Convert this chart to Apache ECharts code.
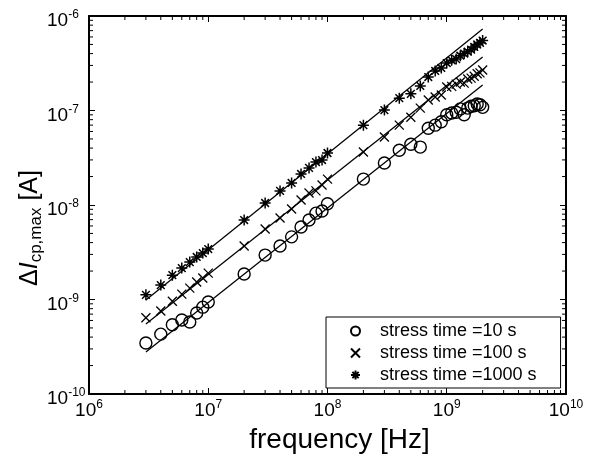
<!DOCTYPE html>
<html>
<head>
<meta charset="utf-8">
<script src="https://cdn.jsdelivr.net/npm/echarts@6/dist/echarts.min.js"></script>
<style>
  html, body { margin: 0; padding: 0; background: #fff; }
  #main { width: 597px; height: 461px; }
</style>
</head>
<body>
<div id="main"></div>
<script>
var freq = [3e6, 4e6, 5e6, 6e6, 7e6, 8e6, 9e6, 1e7,
            2e7, 3e7, 4e7, 5e7, 6e7, 7e7, 8e7, 9e7, 1e8,
            2e8, 3e8, 4e8, 5e8, 6e8, 7e8, 8e8, 9e8, 1e9,
            1.1e9, 1.2e9, 1.3e9, 1.4e9, 1.5e9, 1.6e9, 1.7e9, 1.8e9, 1.9e9, 2e9];

var i10 = [3.47e-10, 4.3e-10, 5.4e-10, 6.07e-10, 5.78e-10, 7.2e-10, 8.3e-10, 9.4e-10,
           1.86e-9, 2.95e-9, 3.68e-9, 4.6e-9, 5.85e-9, 6.93e-9, 8.2e-9, 8.65e-9, 1.03e-8,
           1.88e-8, 2.78e-8, 3.8e-8, 4.4e-8, 4.1e-8, 6.5e-8, 7.0e-8, 7.6e-8, 9.0e-8,
           9.4e-8, 9.6e-8, 1.04e-7, 9.0e-8, 1.06e-7, 1.11e-7, 1.12e-7, 1.17e-7, 1.15e-7, 1.08e-7];

var i100 = [6.4e-10, 7.55e-10, 9.6e-10, 1.14e-9, 1.32e-9, 1.53e-9, 1.69e-9, 1.9e-9,
            3.68e-9, 5.57e-9, 7.28e-9, 9.07e-9, 1.13e-8, 1.34e-8, 1.41e-8, 1.63e-8, 1.88e-8,
            3.64e-8, 5.25e-8, 7.0e-8, 8.5e-8, 1.06e-7, 1.29e-7, 1.39e-7, 1.46e-7, 1.77e-7,
            1.8e-7, 1.9e-7, 2.0e-7, 1.95e-7, 2.15e-7, 2.2e-7, 2.3e-7, 2.45e-7, 2.5e-7, 2.68e-7];

var i1000 = [1.12e-9, 1.42e-9, 1.81e-9, 2.15e-9, 2.49e-9, 2.82e-9, 3.1e-9, 3.42e-9,
             6.93e-9, 1.05e-8, 1.41e-8, 1.71e-8, 2.13e-8, 2.47e-8, 2.85e-8, 2.99e-8, 3.55e-8,
             7.0e-8, 1.01e-7, 1.35e-7, 1.5e-7, 1.82e-7, 2.26e-7, 2.62e-7, 2.82e-7, 3.18e-7,
             3.4e-7, 3.5e-7, 3.8e-7, 4.0e-7, 4.2e-7, 4.4e-7, 4.7e-7, 5.0e-7, 5.2e-7, 5.5e-7];

// fitted lines (end points)
var fitFreq = [3e6, 2e9];
var fit10 = [2.78e-10, 1.86e-7];
var fit100 = [5.5e-10, 3.68e-7];
var fit1000 = [9.9e-10, 7.3e-7];

var seriesNames = ['stress time =10 s', 'stress time =100 s', 'stress time =1000 s'];

var xMin = 1e6, xMax = 1e10, yMin = 1e-10, yMax = 1e-6;

// minor ticks 2..9 of every decade
var xMinor = [], yMinor = [];
for (var e = 6; e < 10; e++) for (var k = 2; k <= 9; k++) xMinor.push(k * Math.pow(10, e));
for (var e2 = -10; e2 < -6; e2++) for (var k2 = 2; k2 <= 9; k2++) yMinor.push(k2 * Math.pow(10, e2));

var FONT = '"Liberation Sans", Arial, sans-serif';

function pairs(xs, ys) {
  return xs.map(function (x, i) { return [x, ys[i]]; });
}
function powLabel(v) {
  return '{b|10}{s|' + Math.round(Math.log10(v)) + '}';
}
function labelRich() {
  return {
    b: { fontSize: 19, fontFamily: FONT, color: '#000', lineHeight: 24 },
    s: { fontSize: 12, fontFamily: FONT, color: '#000', lineHeight: 8, verticalAlign: 'top' }
  };
}
function boxLine() {
  return { show: true, lineStyle: { color: '#000', width: 2 } };
}
function majorTick() {
  return { show: true, inside: true, length: 6, lineStyle: { color: '#000', width: 1 } };
}

var myChart = echarts.init(document.getElementById('main'));

var option = {
  animation: false,
  backgroundColor: '#fff',
  grid: { left: 89, right: 31, top: 16, bottom: 67 },
  legend: {
    data: seriesNames,
    orient: 'vertical',
    left: 326,
    top: 317,
    itemWidth: 9,
    itemHeight: 9,
    itemGap: 4,
    padding: [5, 24, 4, 24],
    borderColor: '#000',
    borderWidth: 1,
    backgroundColor: '#fff',
    textStyle: { fontSize: 18, fontFamily: FONT, color: '#000', padding: [0, 0, 0, 15] }
  },
  xAxis: [
    {
      type: 'log', logBase: 10, min: xMin, max: xMax,
      position: 'bottom',
      axisLine: boxLine(), axisTick: majorTick(),
      axisLabel: { formatter: powLabel, rich: labelRich(), margin: 5 },
      splitLine: { show: false },
      name: 'frequency [Hz]', nameLocation: 'middle', nameGap: 32, nameMoveOverlap: false,
      nameTextStyle: { fontSize: 28, fontFamily: FONT, color: '#000', padding: [0, 0, 0, 24] }
    },
    {
      type: 'log', logBase: 10, min: xMin, max: xMax,
      position: 'top',
      axisLine: boxLine(), axisTick: majorTick(),
      axisLabel: { show: false }, splitLine: { show: false }
    }
  ],
  yAxis: [
    {
      type: 'log', logBase: 10, min: yMin, max: yMax,
      position: 'left',
      axisLine: boxLine(), axisTick: majorTick(),
      axisLabel: { formatter: powLabel, rich: labelRich(), margin: 42, align: 'left', padding: [10, 0, 0, 0] },
      splitLine: { show: false },
      name: '{d|Δ}{i|I}{s|cp,max}{d| [A]}',
      nameLocation: 'middle', nameGap: 44, nameMoveOverlap: false,
      nameTextStyle: {
        padding: [0, 46, 0, 0],
        rich: {
          d: { fontSize: 25, fontFamily: FONT, color: '#000', lineHeight: 30 },
          i: { fontSize: 25, fontFamily: FONT, fontStyle: 'italic', color: '#000', lineHeight: 30 },
          s: { fontSize: 17, fontFamily: FONT, color: '#000', lineHeight: 12, verticalAlign: 'bottom' }
        }
      }
    },
    {
      type: 'log', logBase: 10, min: yMin, max: yMax,
      position: 'right',
      axisLine: boxLine(), axisTick: majorTick(),
      axisLabel: { show: false }, splitLine: { show: false }
    }
  ],
  series: [
    {
      name: 'fit10', type: 'line', data: pairs(fitFreq, fit10), showSymbol: false,
      lineStyle: { color: '#000', width: 1.3 }, silent: true
    },
    {
      name: 'fit100', type: 'line', data: pairs(fitFreq, fit100), showSymbol: false,
      lineStyle: { color: '#000', width: 1.3 }, silent: true
    },
    {
      name: 'fit1000', type: 'line', data: pairs(fitFreq, fit1000), showSymbol: false,
      lineStyle: { color: '#000', width: 1.3 }, silent: true
    },
    {
      name: seriesNames[0], type: 'scatter', data: pairs(freq, i10),
      symbol: 'circle', symbolSize: 12,
      itemStyle: { color: 'rgba(0,0,0,0)', borderColor: '#000', borderWidth: 1.4, opacity: 1 }
    },
    {
      name: seriesNames[1], type: 'scatter', data: pairs(freq, i100),
      symbol: 'path://M0,0L10,10M10,0L0,10', symbolSize: 9,
      itemStyle: { color: 'rgba(0,0,0,0)', borderColor: '#000', borderWidth: 1.3, opacity: 1 }
    },
    {
      name: seriesNames[2], type: 'scatter', data: pairs(freq, i1000),
      symbol: 'path://M5,0L5,10M0,5L10,5M1.5,1.5L8.5,8.5M8.5,1.5L1.5,8.5', symbolSize: 11,
      itemStyle: { color: 'rgba(0,0,0,0)', borderColor: '#000', borderWidth: 1.5, opacity: 1 }
    },
    {
      // minor ticks on bottom and top
      type: 'custom', silent: true, clip: false, z: 10,
      data: xMinor.map(function (v) { return [v, yMin]; }),
      renderItem: function (params, api) {
        var x = api.value(0);
        var b = api.coord([x, yMin]);
        var t = api.coord([x, yMax]);
        var st = { stroke: '#000', lineWidth: 1, fill: null };
        return {
          type: 'group',
          children: [
            { type: 'line', shape: { x1: b[0], y1: b[1], x2: b[0], y2: b[1] - 4 }, style: st },
            { type: 'line', shape: { x1: t[0], y1: t[1], x2: t[0], y2: t[1] + 4 }, style: st }
          ]
        };
      }
    },
    {
      // minor ticks on left and right
      type: 'custom', silent: true, clip: false, z: 10,
      data: yMinor.map(function (v) { return [xMin, v]; }),
      renderItem: function (params, api) {
        var y = api.value(1);
        var l = api.coord([xMin, y]);
        var r = api.coord([xMax, y]);
        var st = { stroke: '#000', lineWidth: 1, fill: null };
        return {
          type: 'group',
          children: [
            { type: 'line', shape: { x1: l[0], y1: l[1], x2: l[0] + 4, y2: l[1] }, style: st },
            { type: 'line', shape: { x1: r[0], y1: r[1], x2: r[0] - 4, y2: r[1] }, style: st }
          ]
        };
      }
    }
  ]
};

myChart.setOption(option);
</script>
</body>
</html>
